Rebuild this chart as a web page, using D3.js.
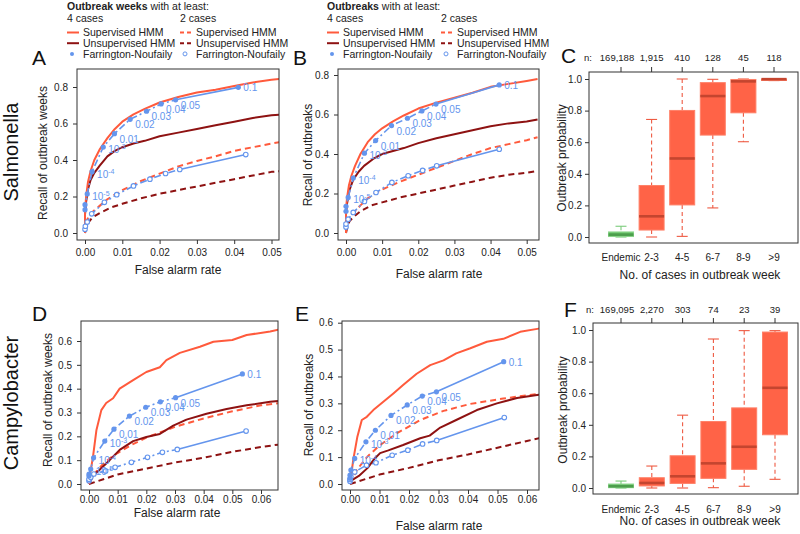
<!DOCTYPE html>
<html><head><meta charset="utf-8">
<script src="https://cdn.jsdelivr.net/npm/d3@7"></script>
<style>body{margin:0;background:#fff}svg{display:block;font-family:"Liberation Sans",Arial,sans-serif}</style>
</head><body><svg id="c" width="800" height="534"></svg>
<script>
// ---------------- DATA ----------------
// Salmonella, recall of outbreak weeks (panel A)
const salWeeksSup4 = [[0,0],[0,0.12],[0.0003,0.2],[0.0008,0.28],[0.0015,0.34],[0.0025,0.4],[0.004,0.46],[0.006,0.52],[0.008,0.57],[0.01,0.61],[0.013,0.65],[0.016,0.68],[0.02,0.715],[0.025,0.745],[0.03,0.77],[0.035,0.785],[0.04,0.805],[0.045,0.825],[0.05,0.84],[0.053,0.845]];
const salWeeksUnsup4 = [[0,0],[0,0.1],[0.0003,0.17],[0.0008,0.24],[0.0015,0.29],[0.0025,0.33],[0.004,0.37],[0.006,0.42],[0.008,0.45],[0.01,0.47],[0.013,0.49],[0.016,0.505],[0.02,0.53],[0.025,0.55],[0.03,0.57],[0.035,0.59],[0.04,0.61],[0.045,0.63],[0.05,0.645],[0.053,0.65]];
const salWeeksSup2 = [[0,0],[0,0.04],[0.0005,0.07],[0.001,0.09],[0.002,0.115],[0.004,0.15],[0.006,0.185],[0.008,0.21],[0.01,0.235],[0.015,0.285],[0.02,0.325],[0.025,0.365],[0.03,0.395],[0.035,0.42],[0.04,0.45],[0.045,0.47],[0.05,0.49],[0.053,0.5]];
const salWeeksUnsup2 = [[0,0],[0.0005,0.04],[0.001,0.06],[0.002,0.085],[0.004,0.11],[0.007,0.14],[0.01,0.16],[0.015,0.19],[0.02,0.215],[0.025,0.235],[0.03,0.255],[0.035,0.275],[0.04,0.295],[0.045,0.315],[0.05,0.335],[0.053,0.34]];
const salWeeksFN4 = [[0,0.128],[0,0.155],[0.0006,0.214],[0.0019,0.336],[0.0049,0.471],[0.0079,0.544],[0.0121,0.623],[0.0165,0.667],[0.0204,0.707],[0.0243,0.73],[0.0411,0.798]];
const salWeeksFN2 = [[0,0.02],[0.0001,0.037],[0.0006,0.06],[0.0018,0.105],[0.0052,0.168],[0.0085,0.21],[0.013,0.258],[0.0174,0.295],[0.0216,0.326],[0.0254,0.348],[0.0431,0.43]];
// Salmonella, recall of outbreaks (panel B)
const salOutSup4 = [[0,0],[0,0.12],[0.0003,0.18],[0.0008,0.24],[0.0015,0.29],[0.0025,0.34],[0.004,0.4],[0.006,0.46],[0.008,0.5],[0.01,0.53],[0.013,0.565],[0.016,0.595],[0.02,0.63],[0.025,0.66],[0.03,0.685],[0.035,0.71],[0.04,0.74],[0.045,0.755],[0.05,0.77],[0.053,0.78]];
const salOutUnsup4 = [[0,0],[0,0.1],[0.0003,0.15],[0.001,0.22],[0.002,0.27],[0.0035,0.31],[0.005,0.34],[0.0075,0.375],[0.01,0.4],[0.013,0.415],[0.016,0.43],[0.02,0.455],[0.025,0.48],[0.03,0.5],[0.035,0.52],[0.04,0.54],[0.045,0.555],[0.05,0.565],[0.053,0.575]];
const salOutSup2 = [[0,0],[0,0.03],[0.0005,0.06],[0.001,0.08],[0.002,0.1],[0.004,0.14],[0.006,0.175],[0.008,0.2],[0.01,0.22],[0.015,0.26],[0.02,0.295],[0.025,0.33],[0.03,0.365],[0.035,0.4],[0.04,0.43],[0.045,0.45],[0.05,0.47],[0.053,0.485]];
const salOutUnsup2 = [[0,0],[0.0005,0.04],[0.001,0.06],[0.002,0.08],[0.004,0.11],[0.007,0.14],[0.01,0.155],[0.015,0.18],[0.02,0.2],[0.025,0.22],[0.03,0.24],[0.035,0.26],[0.04,0.28],[0.045,0.295],[0.05,0.305],[0.053,0.315]];
const salOutFN4 = [[0,0.11],[0,0.135],[0.0006,0.18],[0.002,0.278],[0.0051,0.404],[0.0082,0.468],[0.0126,0.544],[0.017,0.581],[0.021,0.618],[0.0249,0.653],[0.0424,0.75]];
const salOutFN2 = [[0,0.03],[0,0.045],[0.0006,0.07],[0.002,0.104],[0.0051,0.16],[0.0083,0.205],[0.0127,0.256],[0.0172,0.29],[0.0212,0.317],[0.0251,0.34],[0.0424,0.424]];
// Campylobacter, recall of outbreak weeks (panel D)
const camWeeksSup4 = [[0,0],[0.0005,0.05],[0.0014,0.115],[0.0026,0.227],[0.0043,0.31],[0.006,0.34],[0.0084,0.36],[0.0107,0.4],[0.0154,0.436],[0.02,0.47],[0.0247,0.49],[0.027,0.52],[0.0317,0.55],[0.0387,0.576],[0.0434,0.597],[0.05,0.604],[0.055,0.625],[0.0632,0.64],[0.067,0.65]];
const camWeeksUnsup4 = [[0,0],[0.0014,0.035],[0.0037,0.06],[0.0072,0.1],[0.0107,0.143],[0.0154,0.18],[0.02,0.197],[0.0247,0.21],[0.0294,0.245],[0.034,0.27],[0.041,0.295],[0.048,0.315],[0.055,0.33],[0.0632,0.345],[0.067,0.35]];
const camWeeksSup2 = [[0,0],[0.002,0.045],[0.005,0.085],[0.0075,0.11],[0.01,0.13],[0.015,0.165],[0.02,0.195],[0.03,0.24],[0.04,0.275],[0.05,0.305],[0.06,0.33],[0.067,0.34]];
const camWeeksUnsup2 = [[0,0],[0.005,0.02],[0.01,0.04],[0.02,0.065],[0.03,0.09],[0.04,0.11],[0.05,0.135],[0.06,0.155],[0.067,0.167]];
const camWeeksFN4 = [[0,0.034],[0,0.042],[0.0006,0.063],[0.0016,0.11],[0.0055,0.18],[0.0087,0.23],[0.0141,0.285],[0.0198,0.322],[0.0249,0.345],[0.0302,0.362],[0.0535,0.462]];
const camWeeksFN2 = [[0,0.014],[0,0.02],[0.0006,0.028],[0.0017,0.042],[0.0058,0.055],[0.0091,0.07],[0.0148,0.091],[0.0204,0.112],[0.0256,0.133],[0.0308,0.145],[0.0548,0.222]];
// Campylobacter, recall of outbreaks (panel E)
const camOutSup4 = [[0,0],[0.0005,0.04],[0.0011,0.09],[0.0025,0.176],[0.004,0.238],[0.0057,0.25],[0.0079,0.275],[0.0113,0.306],[0.0147,0.337],[0.018,0.368],[0.0226,0.41],[0.0272,0.442],[0.0317,0.46],[0.036,0.486],[0.0408,0.505],[0.0464,0.529],[0.052,0.54],[0.0577,0.566],[0.064,0.578],[0.067,0.582]];
const camOutUnsup4 = [[0,0],[0,0.01],[0.003,0.03],[0.006,0.06],[0.008,0.09],[0.0102,0.115],[0.013,0.125],[0.018,0.145],[0.0238,0.17],[0.027,0.18],[0.0306,0.21],[0.036,0.238],[0.043,0.275],[0.0498,0.3],[0.0566,0.32],[0.064,0.332],[0.067,0.335]];
const camOutSup2 = [[0,0],[0.0023,0.052],[0.0057,0.1],[0.0102,0.145],[0.0158,0.188],[0.0238,0.238],[0.0317,0.272],[0.0408,0.298],[0.052,0.318],[0.06,0.33],[0.067,0.34]];
const camOutUnsup2 = [[0,0],[0.01,0.035],[0.02,0.06],[0.03,0.088],[0.04,0.11],[0.05,0.135],[0.06,0.16],[0.067,0.178]];
const camOutFN4 = [[0,0.021],[0,0.033],[0.0003,0.052],[0.0016,0.095],[0.0054,0.157],[0.0086,0.2],[0.0139,0.255],[0.0194,0.294],[0.0245,0.327],[0.0293,0.343],[0.0521,0.455]];
const camOutFN2 = [[0,0.01],[0,0.017],[0.0003,0.027],[0.0016,0.045],[0.0056,0.07],[0.0088,0.079],[0.0143,0.107],[0.0196,0.126],[0.0246,0.149],[0.0294,0.162],[0.0523,0.247]];
// Farrington-Noufaily threshold labels (one per FN point)
const fnLabels = ["", "", "10^-5", "10^-4", "10^-3", "0.01", "0.02", "0.03", "0.04", "0.05", "0.1"];
const fnLabelsE = ["", "", "", "10^-4", "10^-3", "0.01", "0.02", "0.03", "0.04", "0.05", "0.1"];
// ticks
const salXTicks = [0, 0.01, 0.02, 0.03, 0.04, 0.05];
const camXTicks = [0, 0.01, 0.02, 0.03, 0.04, 0.05, 0.06];
const salYTicks = [0, 0.2, 0.4, 0.6, 0.8];
const camYTicks = [0, 0.1, 0.2, 0.3, 0.4, 0.5, 0.6];
const probTicks = [0, 0.2, 0.4, 0.6, 0.8, 1.0];
// box plots
const boxCategories = ["Endemic", "2-3", "4-5", "6-7", "8-9", ">9"];
const salN = ["169,188", "1,915", "410", "128", "45", "118"];
const camN = ["169,095", "2,270", "303", "74", "23", "39"];
const salBoxLow  = [0, 0, 0.004, 0.184, 0.603, 0.99];
const salBoxQ1   = [0.003, 0.044, 0.203, 0.645, 0.786, 0.994];
const salBoxMed  = [0.015, 0.131, 0.497, 0.892, 0.985, 0.999];
const salBoxQ3   = [0.032, 0.326, 0.801, 0.977, 0.997, 1.0];
const salBoxHigh = [0.068, 0.744, 1.0, 0.998, 1.0, 1.0];
const camBoxLow  = [0, 0, 0, 0.002, 0.011, 0.055];
const camBoxQ1   = [0.002, 0.013, 0.029, 0.061, 0.118, 0.337];
const camBoxMed  = [0.011, 0.032, 0.074, 0.156, 0.261, 0.634];
const camBoxQ3   = [0.025, 0.065, 0.204, 0.421, 0.507, 0.987];
const camBoxHigh = [0.044, 0.139, 0.461, 0.943, 0.996, 0.996];

// ---------------- DRAWING ----------------
const svg = d3.select("#c");
const SUP = "#FF5A3C", UNSUP = "#8E1212", FNC = "#6495ED", FRAME = "#333", TXT = "#222";
const FONT = '"Liberation Sans", Arial, sans-serif';

function labelText(sel, lab) {
  if (lab.startsWith("10^")) {
    sel.text("10");
    sel.append("tspan").attr("dy", -4).attr("font-size", 7).text(lab.slice(3));
  } else sel.text(lab);
}

function styleAxis(g) {
  g.select(".domain").remove();
  g.attr("font-family", FONT).attr("font-size", 10);
  g.selectAll("line").attr("stroke", FRAME);
  g.selectAll("text").attr("fill", TXT);
}

function drawRoc(o) {
  const g = svg.append("g");
  const x = d3.scaleLinear().domain(o.xd).range(o.xr);
  const y = d3.scaleLinear().domain(o.yd).range(o.yr);
  const [bx0, by0, bx1, by1] = o.box;
  svg.append("clipPath").attr("id", "clip" + o.id).append("rect")
    .attr("x", bx0).attr("y", by0).attr("width", bx1 - bx0).attr("height", by1 - by0);
  const pg = g.append("g").attr("clip-path", `url(#clip${o.id})`);
  const line = d3.line().x(d => x(d[0])).y(d => y(d[1]));
  const path = (data, color, dash, w) => pg.append("path").datum(data).attr("d", line)
    .attr("fill", "none").attr("stroke", color).attr("stroke-width", w)
    .attr("stroke-dasharray", dash).attr("stroke-linejoin", "round");
  path(o.unsup2, UNSUP, "6,4", 2);
  path(o.sup2, SUP, "6,4", 2);
  path(o.fn2.slice(0, 10), FNC, "7,3,2,3", 1.6);
  path(o.fn2.slice(9), FNC, null, 1.6);
  path(o.unsup4, UNSUP, null, 2);
  path(o.sup4, SUP, null, 2);
  path(o.fn4.slice(0, 10), FNC, "7,3,2,3", 1.6);
  path(o.fn4.slice(9), FNC, null, 1.6);
  pg.selectAll(".oc").data(o.fn2).join("circle").attr("cx", d => x(d[0])).attr("cy", d => y(d[1]))
    .attr("r", 2.3).attr("fill", "#fff").attr("stroke", FNC).attr("stroke-width", 1.1);
  pg.selectAll(".fc").data(o.fn4).join("circle").attr("cx", d => x(d[0])).attr("cy", d => y(d[1]))
    .attr("r", 2.6).attr("fill", FNC);
  o.fn4.forEach((d, i) => {
    const lab = o.labels[i];
    if (!lab) return;
    const t = g.append("text").attr("x", x(d[0]) + 5)
      .attr("y", y(d[1]) + (i === 10 ? 4 : (lab.startsWith("10^") ? 6 : 9)))
      .attr("fill", FNC).attr("font-size", 10).attr("font-family", FONT);
    labelText(t, lab);
  });
  g.append("rect").attr("x", bx0).attr("y", by0).attr("width", bx1 - bx0).attr("height", by1 - by0)
    .attr("fill", "none").attr("stroke", FRAME).attr("stroke-width", 1);
  g.append("g").attr("transform", `translate(0,${by1})`)
    .call(d3.axisBottom(x).tickValues(o.xTicks).tickFormat(d3.format(".2f")).tickSize(4).tickPadding(o.xpad))
    .call(styleAxis);
  g.append("g").attr("transform", `translate(${bx0},0)`)
    .call(d3.axisLeft(y).tickValues(o.yTicks).tickFormat(d3.format(".1f")).tickSize(4).tickPadding(5))
    .call(styleAxis);
  g.append("text").attr("x", o.xt[0]).attr("y", o.xt[1]).attr("text-anchor", "middle")
    .attr("font-size", 12).attr("font-family", FONT).attr("fill", TXT).text("False alarm rate");
  g.append("text").attr("transform", `translate(${o.yt[0] + 4},${o.yt[1]}) rotate(-90)`)
    .attr("text-anchor", "middle").attr("font-size", 12).attr("font-family", FONT).attr("fill", TXT).text(o.ytitle);
  g.append("text").attr("x", o.letter[0]).attr("y", o.letter[1]).attr("font-size", 21)
    .attr("font-family", FONT).attr("fill", "#111").text(o.id);
}

function drawBox(o) {
  const g = svg.append("g");
  const x = d3.scalePoint().domain(boxCategories).range(o.xr);
  const y = d3.scaleLinear().domain([0, 1]).range(o.yr);
  const [bx0, by0, bx1, by1] = o.box;
  const bw = 25, cw = 11;
  boxCategories.forEach((c, i) => {
    const cx = x(c);
    const green = i === 0;
    const fill = green ? "#6DC56D" : "#FF6347";
    const edge = green ? "#8AD48A" : "#FF8068";
    const med = green ? "#4C9E4C" : "#C4452F";
    const wc = green ? "#7ACB7A" : "#EE5A42";
    g.append("line").attr("x1", cx).attr("x2", cx).attr("y1", y(o.high[i])).attr("y2", y(o.q3[i]))
      .attr("stroke", wc).attr("stroke-width", 1.1).attr("stroke-dasharray", "4,3");
    g.append("line").attr("x1", cx).attr("x2", cx).attr("y1", y(o.q1[i])).attr("y2", y(o.low[i]))
      .attr("stroke", wc).attr("stroke-width", 1.1).attr("stroke-dasharray", "4,3");
    [o.high[i], o.low[i]].forEach(v => g.append("line").attr("x1", cx - cw / 2).attr("x2", cx + cw / 2)
      .attr("y1", y(v)).attr("y2", y(v)).attr("stroke", wc).attr("stroke-width", 1.1));
    g.append("rect").attr("x", cx - bw / 2).attr("width", bw).attr("y", y(o.q3[i]))
      .attr("height", Math.max(1.5, y(o.q1[i]) - y(o.q3[i]))).attr("fill", fill).attr("stroke", edge).attr("stroke-width", 1);
    g.append("line").attr("x1", cx - bw / 2).attr("x2", cx + bw / 2).attr("y1", y(o.med[i])).attr("y2", y(o.med[i]))
      .attr("stroke", med).attr("stroke-width", 2.6);
    g.append("text").attr("x", cx).attr("y", o.catY).attr("text-anchor", "middle").attr("font-size", 10)
      .attr("font-family", FONT).attr("fill", TXT).text(c);
    g.append("line").attr("x1", cx).attr("x2", cx).attr("y1", by0).attr("y2", by0 - 5).attr("stroke", FRAME);
    g.append("text").attr("x", cx + (i === 0 ? -4 : 0)).attr("y", o.nY).attr("text-anchor", "middle").attr("font-size", 9.5)
      .attr("font-family", FONT).attr("fill", TXT).text(o.n[i]);
  });
  g.append("text").attr("x", o.nX).attr("y", o.nY).attr("font-size", 9.5).attr("font-family", FONT).attr("fill", TXT).text("n:");
  g.append("rect").attr("x", bx0).attr("y", by0).attr("width", bx1 - bx0).attr("height", by1 - by0)
    .attr("fill", "none").attr("stroke", FRAME).attr("stroke-width", 1);
  g.append("g").attr("transform", `translate(${bx0},0)`)
    .call(d3.axisLeft(y).tickValues(probTicks).tickFormat(d3.format(".1f")).tickSize(4).tickPadding(3))
    .call(styleAxis);
  g.append("text").attr("x", o.xt[0]).attr("y", o.xt[1]).attr("text-anchor", "middle")
    .attr("font-size", 12).attr("font-family", FONT).attr("fill", TXT).text("No. of cases in outbreak week");
  g.append("text").attr("transform", `translate(${o.yt[0] + 4},${o.yt[1]}) rotate(-90)`)
    .attr("text-anchor", "middle").attr("font-size", 12).attr("font-family", FONT).attr("fill", TXT).text("Outbreak probability");
  g.append("text").attr("x", o.letter[0]).attr("y", o.letter[1]).attr("font-size", 21)
    .attr("font-family", FONT).attr("fill", "#111").text(o.id);
}

function drawLegend(x0, x2, bold) {
  const g = svg.append("g").attr("font-family", FONT).attr("font-size", 10.5).attr("fill", TXT);
  const t = g.append("text").attr("x", x0).attr("y", 9.5);
  t.append("tspan").attr("font-weight", "bold").text(bold);
  t.append("tspan").text(" with at least:");
  g.append("text").attr("x", x0).attr("y", 21.7).text("4 cases");
  g.append("text").attr("x", x2).attr("y", 21.7).text("2 cases");
  const rows = [["Supervised HMM", SUP], ["Unsupervised HMM", UNSUP], ["Farrington-Noufaily", FNC]];
  rows.forEach((r, i) => {
    const cy = 32.5 + i * 10.7;
    [[x0, null], [x2, "4,3"]].forEach(([cx, dash], j) => {
      if (i < 2) {
        g.append("line").attr("x1", cx).attr("x2", cx + 12).attr("y1", cy).attr("y2", cy)
          .attr("stroke", r[1]).attr("stroke-width", 2).attr("stroke-dasharray", dash);
      } else if (j === 0) {
        g.append("circle").attr("cx", cx + 5).attr("cy", cy).attr("r", 2).attr("fill", FNC);
      } else {
        g.append("circle").attr("cx", cx + 5).attr("cy", cy).attr("r", 2).attr("fill", "#fff").attr("stroke", FNC).attr("stroke-width", 1);
      }
      g.append("text").attr("x", cx + 16).attr("y", cy + 3.8).text(r[0]);
    });
  });
}

drawLegend(67, 180, "Outbreak weeks");
drawLegend(327, 441, "Outbreaks");

drawRoc({id: "A", box: [77, 69, 279, 240], xd: [0, 0.05], xr: [85, 271.5], yd: [0, 0.8], yr: [233, 87], xpad: 5,
  xTicks: salXTicks, yTicks: salYTicks, sup4: salWeeksSup4, unsup4: salWeeksUnsup4, sup2: salWeeksSup2, unsup2: salWeeksUnsup2,
  fn4: salWeeksFN4, fn2: salWeeksFN2, labels: fnLabels, xt: [178, 274], yt: [43, 153], ytitle: "Recall of outbreak weeks", letter: [32, 65]});
drawRoc({id: "B", box: [338, 69, 539, 240], xd: [0, 0.05], xr: [346, 526.7], yd: [0, 0.8], yr: [233, 75], xpad: 5,
  xTicks: salXTicks, yTicks: salYTicks, sup4: salOutSup4, unsup4: salOutUnsup4, sup2: salOutSup2, unsup2: salOutUnsup2,
  fn4: salOutFN4, fn2: salOutFN2, labels: fnLabels, xt: [439, 278], yt: [308, 155], ytitle: "Recall of outbreaks", letter: [293, 65]});
drawRoc({id: "D", box: [81, 321, 278, 490], xd: [0, 0.06], xr: [89, 261], yd: [0, 0.6], yr: [484, 341], xpad: 2,
  xTicks: camXTicks, yTicks: camYTicks, sup4: camWeeksSup4, unsup4: camWeeksUnsup4, sup2: camWeeksSup2, unsup2: camWeeksUnsup2,
  fn4: camWeeksFN4, fn2: camWeeksFN2, labels: fnLabels, xt: [177, 517], yt: [48, 400], ytitle: "Recall of outbreak weeks", letter: [32, 321]});
drawRoc({id: "E", box: [342, 321, 539, 490], xd: [0, 0.06], xr: [350, 527], yd: [0, 0.6], yr: [484, 322.7], xpad: 2,
  xTicks: camXTicks, yTicks: camYTicks, sup4: camOutSup4, unsup4: camOutUnsup4, sup2: camOutSup2, unsup2: camOutUnsup2,
  fn4: camOutFN4, fn2: camOutFN2, labels: fnLabelsE, xt: [439, 530], yt: [309, 405], ytitle: "Recall of outbreaks", letter: [295, 321]});

drawBox({id: "C", box: [589, 72, 798, 243], xr: [621, 774], yr: [237, 79], low: salBoxLow, q1: salBoxQ1, med: salBoxMed,
  q3: salBoxQ3, high: salBoxHigh, n: salN, nX: 584, nY: 60.5, catY: 261, xt: [700, 279], yt: [562, 158], letter: [561, 63]});
drawBox({id: "F", box: [593, 323, 798, 494], xr: [621, 775], yr: [488, 330], low: camBoxLow, q1: camBoxQ1, med: camBoxMed,
  q3: camBoxQ3, high: camBoxHigh, n: camN, nX: 586, nY: 312.7, catY: 513, xt: [700, 525], yt: [563, 410], letter: [564, 317]});

svg.append("text").attr("transform", "translate(18,152) rotate(-90)").attr("text-anchor", "middle")
  .attr("font-size", 20).attr("font-family", FONT).attr("fill", "#111").text("Salmonella");
svg.append("text").attr("transform", "translate(18,403) rotate(-90)").attr("text-anchor", "middle")
  .attr("font-size", 20).attr("font-family", FONT).attr("fill", "#111").text("Campylobacter");
</script></body></html>
